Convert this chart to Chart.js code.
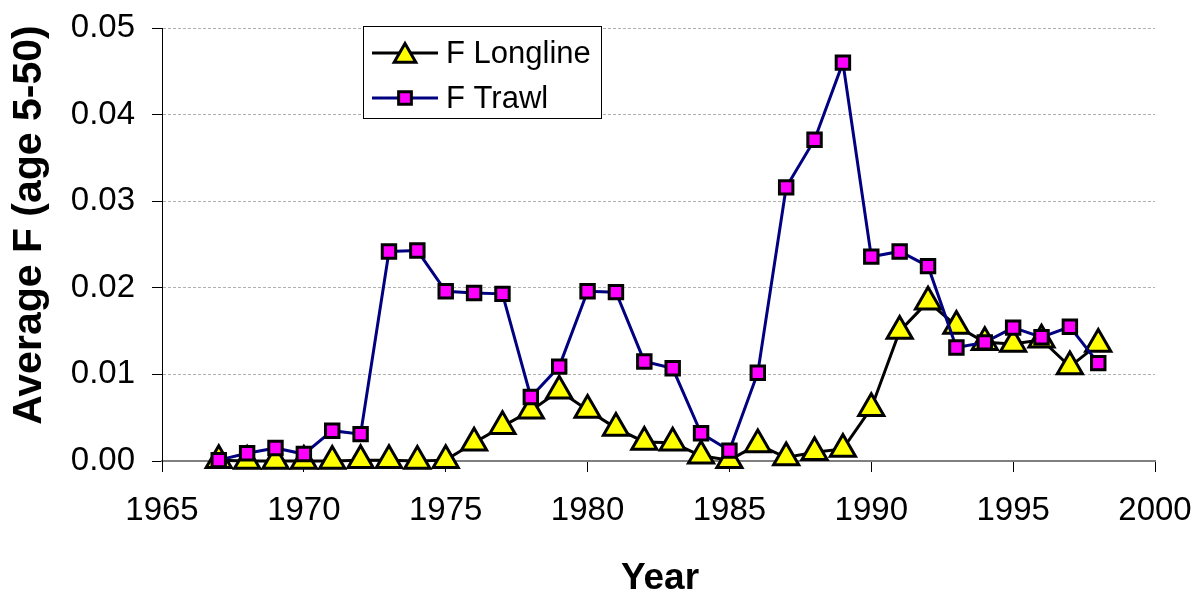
<!DOCTYPE html>
<html>
<head>
<meta charset="utf-8">
<script src="https://cdn.jsdelivr.net/npm/chart.js@4/dist/chart.umd.min.js"></script>
<style>
  body { margin: 0; background: #fff; }
  #grafico { display: block; }
</style>
</head>
<body>
<canvas id="grafico" width="1200" height="591"></canvas>
<script>
const anios = [1967, 1968, 1969, 1970, 1971, 1972, 1973, 1974, 1975, 1976, 1977, 1978, 1979, 1980, 1981, 1982,
    1983, 1984, 1985, 1986, 1987, 1988, 1989, 1990, 1991, 1992, 1993, 1994, 1995, 1996, 1997, 1998];
const fLongline = [0.0001, 0.0000, 0.0000, 0.0000, 0.0000, 0.0001, 0.0001, 0.0000, 0.0001, 0.0021, 0.0040, 0.0058,
    0.0081, 0.0059, 0.0038, 0.0022, 0.0021, 0.0006, 0.0001, 0.0019, 0.0004, 0.0010, 0.0014, 0.0061,
    0.0150, 0.0184, 0.0156, 0.0137, 0.0135, 0.0140, 0.0109, 0.0135];
const fTrawl = [0.0001, 0.0009, 0.0015, 0.0008, 0.0035, 0.0031, 0.0242, 0.0243, 0.0196, 0.0194, 0.0193, 0.0074,
    0.0109, 0.0196, 0.0195, 0.0115, 0.0107, 0.0032, 0.0012, 0.0102, 0.0316, 0.0371, 0.0460, 0.0236,
    0.0242, 0.0225, 0.0131, 0.0137, 0.0154, 0.0143, 0.0155, 0.0113];
const nombres = ["F Longline", "F Trawl"];
const tituloX = "Year";
const tituloY = "Average F (age 5-50)";

const fuente = "'Liberation Sans', Arial, sans-serif";

function puntos(valores) {
    return anios.map((a, i) => ({ x: a, y: valores[i] }));
}

function dibujarMarca(ctx, tipo, x, y, r, relleno) {
    ctx.save();
    ctx.beginPath();
    if (tipo === "triangle") {
        let rad = 0;
        ctx.moveTo(x + Math.sin(rad) * r, y - Math.cos(rad) * r);
        rad += 2 * Math.PI / 3;
        ctx.lineTo(x + Math.sin(rad) * r, y - Math.cos(rad) * r);
        rad += 2 * Math.PI / 3;
        ctx.lineTo(x + Math.sin(rad) * r, y - Math.cos(rad) * r);
        ctx.closePath();
    } else {
        const s = r * Math.SQRT1_2;
        ctx.rect(x - s, y - s, 2 * s, 2 * s);
    }
    ctx.fillStyle = relleno;
    ctx.fill();
    ctx.lineWidth = 3;
    ctx.strokeStyle = "#000";
    ctx.stroke();
    ctx.restore();
}

// leyenda dentro del area y titulos de los ejes
const extras = {
    id: "extras",
    afterDraw(chart) {
        const ctx = chart.ctx;
        ctx.save();
        ctx.fillStyle = "#fff";
        ctx.fillRect(363.5, 26.5, 238, 92);
        ctx.strokeStyle = "#000";
        ctx.lineWidth = 1;
        ctx.strokeRect(363.5, 26.5, 238, 92);

        const filas = [
            { y: 53, color: "#000", tipo: "triangle", r: 12.5, relleno: "#ffff00" },
            { y: 98, color: "#000080", tipo: "rect", r: 9, relleno: "#ff00ff" }
        ];
        filas.forEach((f, i) => {
            ctx.beginPath();
            ctx.moveTo(372, f.y);
            ctx.lineTo(438, f.y);
            ctx.lineWidth = 3;
            ctx.strokeStyle = f.color;
            ctx.stroke();
            dibujarMarca(ctx, f.tipo, 405, f.tipo === "triangle" ? f.y + 3 : f.y, f.r, f.relleno);
            ctx.fillStyle = "#000";
            ctx.font = "31px " + fuente;
            ctx.textBaseline = "middle";
            ctx.textAlign = "left";
            ctx.fillText(nombres[i], 446, f.y + 1);
        });

        ctx.fillStyle = "#000";
        ctx.textAlign = "center";
        ctx.textBaseline = "alphabetic";
        ctx.font = "bold 37px " + fuente;
        ctx.fillText(tituloX, 660, 589);

        ctx.font = "bold 41px " + fuente;
        ctx.translate(41, 225);
        ctx.rotate(-Math.PI / 2);
        ctx.fillText(tituloY, 0, 0);
        ctx.restore();
    }
};

new Chart(document.getElementById("grafico").getContext("2d"), {
    type: "line",
    data: {
        datasets: [
            {
                label: nombres[0],
                data: puntos(fLongline),
                borderColor: "#000",
                borderWidth: 3,
                pointStyle: "triangle",
                pointRadius: 14.5,
                pointBackgroundColor: "#ffff00",
                pointBorderColor: "#000",
                pointBorderWidth: 3,
                tension: 0,
                clip: false,
                order: 1
            },
            {
                label: nombres[1],
                data: puntos(fTrawl),
                borderColor: "#000080",
                borderWidth: 3,
                pointStyle: "rect",
                pointRadius: 9.5,
                pointBackgroundColor: "#ff00ff",
                pointBorderColor: "#000",
                pointBorderWidth: 3,
                tension: 0,
                clip: false,
                order: 0
            }
        ]
    },
    options: {
        responsive: false,
        animation: false,
        layout: { padding: { top: 28, right: 45, left: 0, bottom: 0 } },
        plugins: {
            legend: { display: false },
            tooltip: { enabled: false }
        },
        scales: {
            x: {
                type: "linear",
                min: 1965,
                max: 2000,
                afterFit: (s) => {
                    s.height = 130;
                    s.paddingLeft = 0;
                    s.paddingRight = 0;
                },
                ticks: {
                    stepSize: 5,
                    color: "#000",
                    padding: 19,
                    font: { family: fuente, size: 33 },
                    callback: (v) => String(v)
                },
                grid: {
                    drawOnChartArea: false,
                    tickLength: 11,
                    tickColor: "#000",
                    tickWidth: 1
                },
                border: { color: "#808080", width: 2 }
            },
            y: {
                min: 0,
                max: 0.05,
                afterFit: (s) => {
                    s.width = 162;
                    s.paddingTop = 0;
                    s.paddingBottom = 0;
                },
                ticks: {
                    stepSize: 0.01,
                    color: "#000",
                    padding: 17,
                    font: { family: fuente, size: 33 },
                    callback: (v) => v.toFixed(2)
                },
                grid: {
                    color: (c) => (c.tick && c.tick.value === 0 ? "rgba(0,0,0,0)" : "#b0b0b0"),
                    lineWidth: 1,
                    tickLength: 10,
                    tickColor: "#000",
                    tickWidth: 1
                },
                border: { color: "#000", width: 1, dash: [3, 2] }
            }
        }
    },
    plugins: [extras]
});
</script>
</body>
</html>
